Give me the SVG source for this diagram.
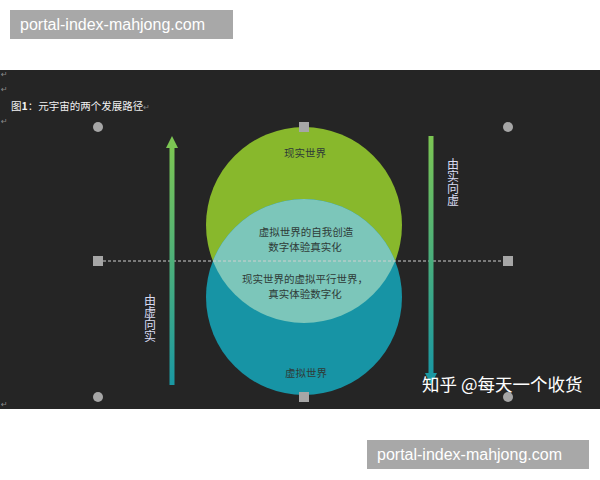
<svg xmlns="http://www.w3.org/2000/svg" width="600" height="480" viewBox="0 0 600 480">
<defs>
<style>
.wm{fill:#a8a8a8}
.wmt{font-family:"Liberation Sans","DejaVu Sans",sans-serif;font-size:16px;fill:#ffffff}
.cjk{font-family:"Noto Sans CJK SC","Noto Sans",sans-serif}
.ct{font-size:10.5px;fill:#2f3b38;text-anchor:middle;dominant-baseline:central}
.vt{font-size:12px;fill:#d9dcf2;writing-mode:vertical-rl;text-orientation:upright}
.ret{font-family:"DejaVu Sans",sans-serif;font-size:8px;fill:#8a8a8a}
.hsq{fill:#a6a6a6}
</style>
<linearGradient id="ga" x1="0" y1="0" x2="0" y2="1">
<stop offset="0" stop-color="#7cc653"/>
<stop offset="1" stop-color="#1a98a3"/>
</linearGradient>
<clipPath id="clipG"><circle cx="304" cy="225" r="98"/></clipPath>
</defs>
<rect width="600" height="480" fill="#ffffff"/>
<rect x="0" y="70" width="600" height="339" fill="#252525"/>
<g id="returns">
<text class="ret" x="1" y="77">↵</text>
<text class="ret" x="1" y="92">↵</text>
<text class="ret" x="1" y="124">↵</text>
<text class="ret" x="1" y="407">↵</text>
</g>
<g id="title">
<text class="cjk" x="11" y="110" font-size="10.5" fill="#f2f2f2">图<tspan font-weight="bold">1</tspan>：元宇宙的两个发展路径<tspan fill="#888" font-size="8">↵</tspan></text>
</g>
<g id="real-world">
<circle cx="304" cy="225" r="98" fill="#88b82c"/>
</g>
<g id="virtual-world">
<circle cx="304" cy="297" r="98" fill="#1794a5"/>
</g>
<g id="overlap">
<circle cx="304" cy="297" r="98" fill="#7cc6ba" clip-path="url(#clipG)"/>
</g>
<g id="connectors">
<line x1="98" y1="261" x2="508" y2="261" stroke="#cfcfcf" stroke-width="1" stroke-dasharray="3,2"/>
<rect x="169.5" y="146" width="5" height="239" fill="url(#ga)"/>
<polygon points="172,136 166,148 178,148" fill="#7cc653"/>
<rect x="428.5" y="136" width="5" height="238" fill="url(#ga)"/>
<polygon points="431,385 425,373 437,373" fill="#1a98a3"/>
</g>
<g id="handles">
<rect class="hsq" x="299" y="122" width="10" height="10"/>
<rect class="hsq" x="299" y="392" width="10" height="10"/>
<rect class="hsq" x="93" y="256" width="10" height="10"/>
<rect class="hsq" x="503" y="256" width="10" height="10"/>
<circle class="hsq" cx="98" cy="127" r="5"/>
<circle class="hsq" cx="508" cy="127" r="5"/>
<circle class="hsq" cx="98" cy="397" r="5"/>
</g>
<g id="labels">
<text class="cjk ct" x="305" y="152">现实世界</text>
<text class="cjk ct" x="306" y="231">虚拟世界的自我创造</text>
<text class="cjk ct" x="305" y="246">数字体验真实化</text>
<text class="cjk ct" x="305" y="278">现实世界的虚拟平行世界，</text>
<text class="cjk ct" x="305" y="293">真实体验数字化</text>
<text class="cjk ct" x="306" y="372">虚拟世界</text>
</g>
<g id="right-label">
<text class="cjk vt" x="453" y="158">由实向虚</text>
</g>
<g id="left-label">
<text class="cjk vt" x="150" y="294">由虚向实</text>
</g>
<g id="zhihu-mark">
<text class="cjk" x="422" y="391" font-size="17.5" fill="#ffffff">知乎 @每天一个收货</text>
<circle class="hsq" cx="508" cy="397" r="5"/>
</g>
<g id="watermark-top">
<rect class="wm" x="10" y="10" width="223" height="29"/>
<text class="wmt" x="20" y="30">portal-index-mahjong.com</text>
</g>
<g id="watermark-bottom">
<rect class="wm" x="367" y="440" width="222" height="29"/>
<text class="wmt" x="377" y="460">portal-index-mahjong.com</text>
</g>
</svg>
